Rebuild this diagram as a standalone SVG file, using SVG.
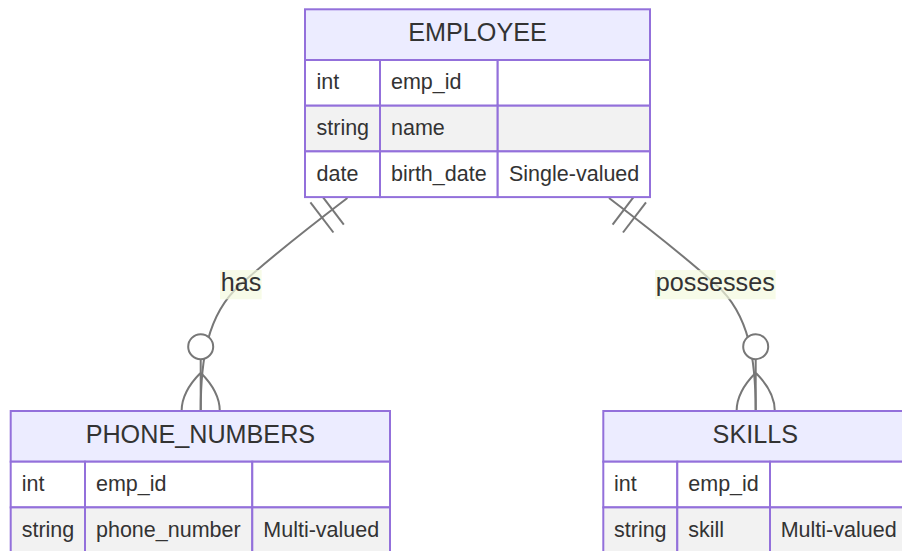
<svg xmlns="http://www.w3.org/2000/svg" width="902" height="551" viewBox="0 0 902 551">
<style>
.hdr{fill:#ECECFF;stroke:#9370DB;stroke-width:2}
.odd{fill:#ffffff;stroke:#9370DB;stroke-width:2}
.even{fill:#f2f2f2;stroke:#9370DB;stroke-width:2}
.t{font-family:"Liberation Sans",Arial,Helvetica,sans-serif;fill:#333333}
.name{font-size:25.2px;text-anchor:middle}
.attr{font-size:21.5px}
.rel{fill:none;stroke:#777777;stroke-width:2}
.mk{fill:none;stroke:#777777;stroke-width:2}
.ring{fill:#ffffff;stroke:#777777;stroke-width:2}
.lblbg{fill:#f3f9de;opacity:0.7}
.lbl{font-size:25.2px;text-anchor:middle}
</style>
<g id="connectors">
  <path class="rel" d="M347.4,198 C315.6,222.2 269.8,258.3 240,285 C206.5,315 200.7,361 200.7,411"/>
  <line class="mk" x1="320.8" y1="194.4" x2="343.8" y2="224.6"/>
  <line class="mk" x1="310.4" y1="202.3" x2="333.4" y2="232.5"/>
  <circle class="ring" cx="200.7" cy="346.7" r="12.5"/>
  <path class="mk" d="M200.7,359.2 L200.7,411 M200.7,372.7 Q219.8,391.8 219.8,411 M200.7,372.7 Q181.6,391.8 181.6,411"/>
  <rect class="lblbg" x="220" y="270" width="41.7" height="29.3"/>
  <text class="t lbl" x="241" y="291">has</text>

  <path class="rel" d="M609,198 C640.8,222.2 686.6,258.3 716.4,285 C749.9,315 755.7,361 755.7,411"/>
  <line class="mk" x1="635.6" y1="194.4" x2="612.6" y2="224.6"/>
  <line class="mk" x1="646" y1="202.3" x2="623" y2="232.5"/>
  <circle class="ring" cx="755.7" cy="346.7" r="12.5"/>
  <path class="mk" d="M755.7,359.2 L755.7,411 M755.7,372.7 Q774.8,391.8 774.8,411 M755.7,372.7 Q736.6,391.8 736.6,411"/>
  <rect class="lblbg" x="655" y="270" width="120.7" height="29.3"/>
  <text class="t lbl" x="715.3" y="291">possesses</text>
</g>
<g id="EMPLOYEE">
  <rect class="hdr" x="305" y="9.3" width="345" height="50.7"/>
  <text class="t name" x="477.5" y="41.3">EMPLOYEE</text>
  <rect class="odd" x="305" y="60" width="75" height="45.7"/>
  <rect class="odd" x="380" y="60" width="117.7" height="45.7"/>
  <rect class="odd" x="497.7" y="60" width="152.3" height="45.7"/>
  <rect class="even" x="305" y="105.7" width="75" height="45.7"/>
  <rect class="even" x="380" y="105.7" width="117.7" height="45.7"/>
  <rect class="even" x="497.7" y="105.7" width="152.3" height="45.7"/>
  <rect class="odd" x="305" y="151.4" width="75" height="45.7"/>
  <rect class="odd" x="380" y="151.4" width="117.7" height="45.7"/>
  <rect class="odd" x="497.7" y="151.4" width="152.3" height="45.7"/>
  <text class="t attr" x="316.5" y="89.3">int</text>
  <text class="t attr" x="391" y="89.3">emp_id</text>
  <text class="t attr" x="316.5" y="135">string</text>
  <text class="t attr" x="391" y="135">name</text>
  <text class="t attr" x="316.5" y="180.7">date</text>
  <text class="t attr" x="391" y="180.7">birth_date</text>
  <text class="t attr" x="509" y="180.7">Single-valued</text>
</g>
<g id="PHONE_NUMBERS">
  <rect class="hdr" x="10.7" y="411" width="379.3" height="50.7"/>
  <text class="t name" x="200.4" y="443.3">PHONE_NUMBERS</text>
  <rect class="odd" x="10.7" y="461.7" width="74.3" height="45.7"/>
  <rect class="odd" x="85" y="461.7" width="167.3" height="45.7"/>
  <rect class="odd" x="252.3" y="461.7" width="137.7" height="45.7"/>
  <rect class="even" x="10.7" y="507.4" width="74.3" height="45.7"/>
  <rect class="even" x="85" y="507.4" width="167.3" height="45.7"/>
  <rect class="even" x="252.3" y="507.4" width="137.7" height="45.7"/>
  <text class="t attr" x="21.7" y="491">int</text>
  <text class="t attr" x="96" y="491">emp_id</text>
  <text class="t attr" x="21.7" y="536.7">string</text>
  <text class="t attr" x="96" y="536.7">phone_number</text>
  <text class="t attr" x="263.3" y="536.7">Multi-valued</text>
</g>
<g id="SKILLS">
  <rect class="hdr" x="603.3" y="411" width="304" height="50.7"/>
  <text class="t name" x="755.3" y="443.3">SKILLS</text>
  <rect class="odd" x="603.3" y="461.7" width="74" height="45.7"/>
  <rect class="odd" x="677.3" y="461.7" width="92.7" height="45.7"/>
  <rect class="odd" x="770" y="461.7" width="137.3" height="45.7"/>
  <rect class="even" x="603.3" y="507.4" width="74" height="45.7"/>
  <rect class="even" x="677.3" y="507.4" width="92.7" height="45.7"/>
  <rect class="even" x="770" y="507.4" width="137.3" height="45.7"/>
  <text class="t attr" x="614" y="491">int</text>
  <text class="t attr" x="688.3" y="491">emp_id</text>
  <text class="t attr" x="614" y="536.7">string</text>
  <text class="t attr" x="688.3" y="536.7">skill</text>
  <text class="t attr" x="780.7" y="536.7">Multi-valued</text>
</g>
</svg>
